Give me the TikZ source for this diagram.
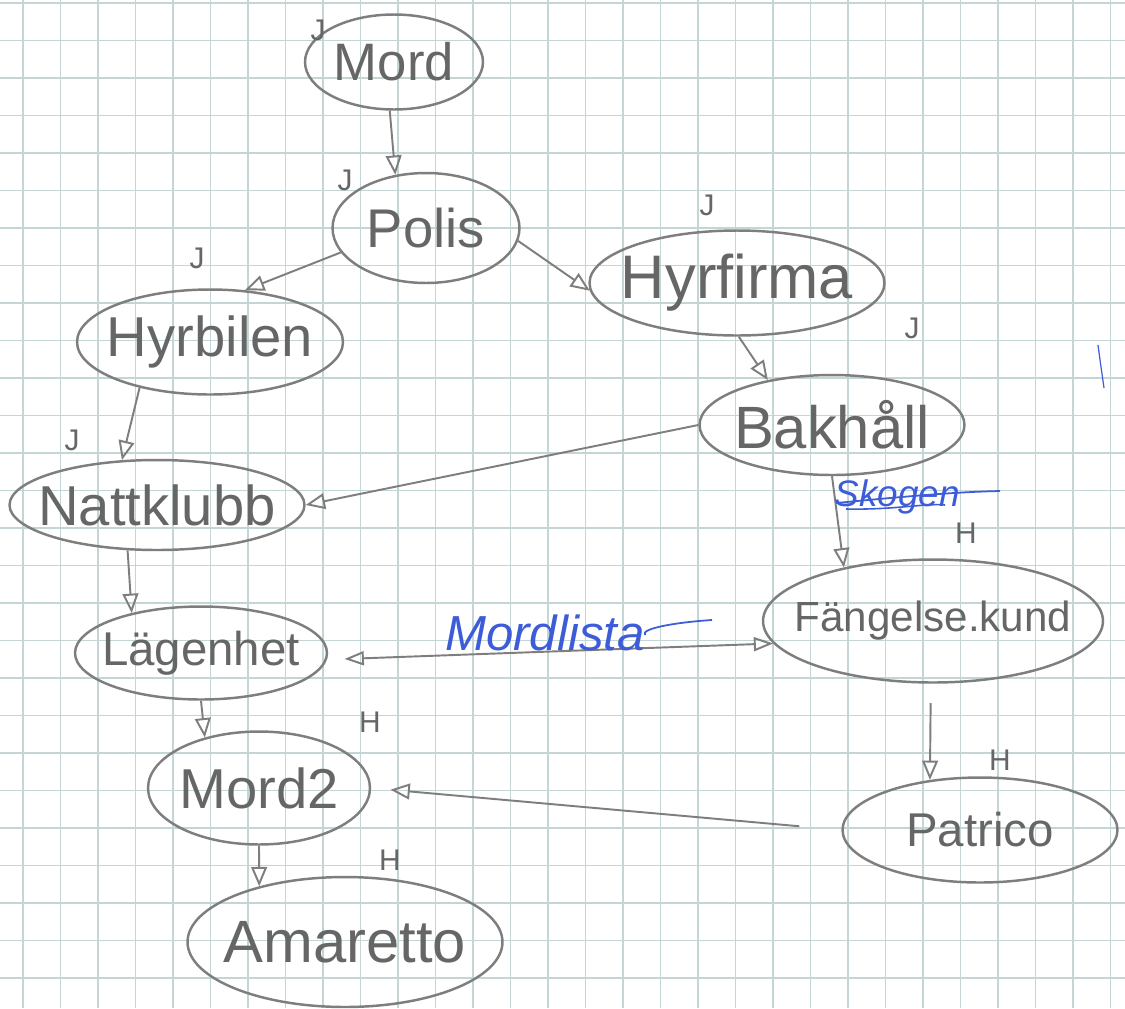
\documentclass[tikz,border=0pt]{standalone}
\usepackage{fontspec}
\setmainfont{Liberation Sans}
\usetikzlibrary{shapes.geometric,arrows.meta}
\definecolor{pencil}{HTML}{666666}
\definecolor{pencilline}{HTML}{7E7E7E}
\definecolor{gridc}{HTML}{C4D5D5}
\definecolor{bluepen}{HTML}{3D5CD8}
\newcommand\nlbl[1]{\makebox[0pt][c]{#1}}
\newcommand\fs[1]{\fontsize{#1}{#1}\selectfont}
\begin{document}
\begin{tikzpicture}[x=0.02cm,y=-0.02cm,
  state/.style={ellipse,draw=pencilline,line width=1.4pt,text=pencil,inner sep=0pt},
  arr/.style={draw=pencilline,line width=1.1pt,-{Triangle[open,length=11pt,width=9pt]}},
  darr/.style={draw=pencilline,line width=1.1pt,{Triangle[open,length=11pt,width=8pt]}-{Triangle[open,length=11pt,width=8pt]}},
  jmark/.style={text=pencil,font=\fs{17},inner sep=1pt},
  bluetext/.style={text=bluepen,font=\fs{28}\itshape,inner sep=1pt}
]
\fill[white] (0,0) rectangle (1125,1008);
\useasboundingbox (0,0) rectangle (1125,1008);
% grid paper
\foreach \i in {0,...,29} \draw[gridc,line width=0.6pt] ({23+37.5*\i},0) -- ({23+37.5*\i},1008);
\foreach \i in {0,...,27} \draw[gridc,line width=0.6pt] (0,{3+37.5*\i}) -- (1125,{3+37.5*\i});

% nodes
\node[state,minimum width=3.56cm,minimum height=1.9cm,font=\fs{30}] (mord) at (394,62) {\nlbl{Mord}};
\node[state,minimum width=3.74cm,minimum height=2.2cm,font=\fs{31}] (polis) at (426,228) {\nlbl{Polis}};
\node[state,minimum width=5.9cm,minimum height=2.1cm,font=\fs{35}] (hyrf) at (737,283) {\nlbl{Hyrfirma}};
\node[state,minimum width=5.32cm,minimum height=2.1cm,font=\fs{32}] (hyrb) at (210,342) {\nlbl{Hyrbilen}};
\node[state,minimum width=5.3cm,minimum height=2.0cm,font=\fs{34}] (bak) at (832,425) {\nlbl{Bakhåll}};
\node[state,minimum width=5.9cm,minimum height=1.8cm,font=\fs{32}] (natt) at (157,505) {\nlbl{Nattklubb}};
\node[state,minimum width=6.8cm,minimum height=2.46cm,font=\fs{24}] (fk) at (933,621) {\nlbl{Fängelse.kund}};
\node[state,minimum width=5.04cm,minimum height=1.86cm,font=\fs{27}] (lag) at (201,653) {\nlbl{Lägenhet}};
\node[state,minimum width=4.44cm,minimum height=2.26cm,font=\fs{32}] (m2) at (259,788) {\nlbl{Mord2}};
\node[state,minimum width=6.3cm,minimum height=2.6cm,font=\fs{34}] (ama) at (345,942) {\nlbl{Amaretto}};
\node[state,minimum width=5.5cm,minimum height=2.1cm,font=\fs{27}] (pat) at (980,830) {\nlbl{Patrico}};

% connectors
\draw[arr] (mord.265) -- (polis.120);
\draw[arr] (polis.196) -- (hyrb.56);
\draw[arr] (polis.352) -- (hyrf.183);
\draw[arr] (hyrf.272) -- (bak.145);
\draw[arr] (hyrb.213) -- (natt.128);
\draw[arr] (bak.180) -- (natt.east);
\draw[arr] (natt.237) -- (lag.150);
\draw[arr] (bak.south) -- (fk.149);
\draw[darr,shorten <=10pt] (lag.357) -- (fk.188);
\draw[arr,shorten <=11pt] (fk.268) -- (pat.135);
\draw[arr,shorten <=24pt,shorten >=11pt] (pat.west) -- (m2.east);
\draw[arr] (lag.south) -- (m2.137);
\draw[arr] (m2.270) -- (ama.147);

% J / H marks
\node[jmark] (j1) at (318,30) {J};
\node[jmark] (j2) at (345,180) {J};
\node[jmark] (j3) at (197,258) {J};
\node[jmark] (j4) at (707,205) {J};
\node[jmark] (j5) at (912,328) {J};
\node[jmark] (j6) at (72,440) {J};
\node[jmark] (h1) at (370,722) {H};
\node[jmark] (h2) at (390,860) {H};
\node[jmark] (h3) at (1000,760) {H};
\node[jmark] (h4) at (966,533) {H};

% blue pen annotations
\node[bluetext] (ml) at (545,633) {Mordlista};
\draw[bluepen,line width=1pt] (ml.east) ++(-2,2) .. controls (640,628) and (680,622) .. (712,620);
\node[bluetext,font=\fs{21}\itshape,inner sep=0pt] (sk) at (897,497) {Skogen};
\draw[bluepen,line width=1pt] (sk.west) ++(2,6) .. controls (910,496) and (955,492) .. (1000,491);
\draw[bluepen,line width=0.9pt] (sk.west) ++(12,12) .. controls (895,510) and (925,503) .. (945,505);
\draw[bluepen,line width=0.7pt] (1098,345) -- (1100,360) -- (1104,388);
\end{tikzpicture}
\end{document}
